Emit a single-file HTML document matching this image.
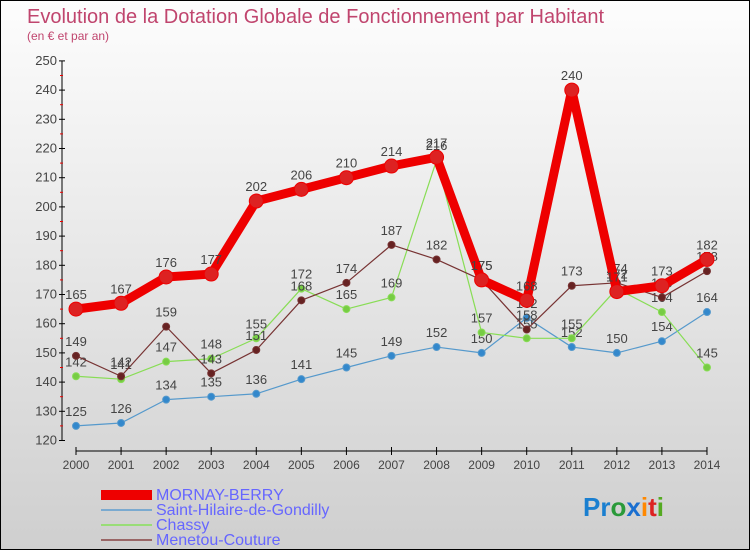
<!DOCTYPE html>
<html><head><meta charset="utf-8">
<style>
body{margin:0;}
#c{position:relative;width:748px;height:548px;border:1px solid #000;background:linear-gradient(#fdfdfd,#cfcfcf);font-family:"Liberation Sans","DejaVu Sans",sans-serif;overflow:hidden}
svg{position:absolute;left:0;top:0}
</style></head><body>
<div id="c">
<svg id="s" width="748" height="548">
<text x="26" y="22" font-size="20" fill="#c0456e">Evolution de la Dotation Globale de Fonctionnement par Habitant</text>
<text x="26" y="39" font-size="12" fill="#c0456e">(en € et par an)</text>
<g id="axes"></g><g id="series"></g>
<g font-size="16" fill="#6666ff">
<rect x="100" y="489" width="51" height="10" fill="#ee0000"/>
<text x="155" y="499">MORNAY-BERRY</text>
<rect x="100" y="508" width="51" height="2" fill="#7aaad0"/>
<text x="155" y="514">Saint-Hilaire-de-Gondilly</text>
<rect x="100" y="523" width="51" height="2" fill="#99dd77"/>
<text x="155" y="529">Chassy</text>
<rect x="100" y="538" width="51" height="2" fill="#996666"/>
<text x="155" y="544">Menetou-Couture</text>
</g>
<g font-size="26" font-weight="bold">
<text x="582" y="515"><tspan fill="#1a7fd0">Pr</tspan><tspan fill="#2a9a3a">o</tspan><tspan fill="#1a6fd0">x</tspan><tspan fill="#ff8800">i</tspan><tspan fill="#dd2222">t</tspan><tspan fill="#55aa22">i</tspan></text>
</g>
</svg>
</div>
<script>
const years=["2000","2001","2002","2003","2004","2005","2006","2007","2008","2009","2010","2011","2012","2013","2014"];
const yTicks=[120,130,140,150,160,170,180,190,200,210,220,230,240,250];
const mornay=[165,167,176,177,202,206,210,214,217,175,168,240,171,173,182];
const hilaire=[125,126,134,135,136,141,145,149,152,150,162,152,150,154,164];
const chassy=[142,141,147,148,155,172,165,169,216,157,155,155,172,164,145];
const menetou=[149,142,159,143,151,168,174,187,182,175,158,173,174,169,178];
const NS="http://www.w3.org/2000/svg";
const xs=i=>75+i*45.07;
const ys=v=>439.5-(v-120)*2.92;
function mk(t,a,p){const e=document.createElementNS(NS,t);for(const k in a)e.setAttribute(k,a[k]);p.appendChild(e);return e;}
const ax=document.getElementById('axes');
const yl=mk('line',{x1:61,y1:ys(250),x2:61,y2:ys(120),stroke:'#000'},ax);


yTicks.forEach(v=>{
 mk('line',{x1:58,x2:64,y1:ys(v),y2:ys(v),stroke:'#000'},ax);
 if(v<250) mk('line',{x1:59,x2:62,y1:ys(v+5),y2:ys(v+5),stroke:'#e00'},ax);
 const t=mk('text',{x:56,y:ys(v)+4,'font-size':13,fill:'#444','text-anchor':'end'},ax);
 t.textContent=v;
 
 
});
const xl=mk('line',{x1:75,y1:450,x2:xs(14),y2:450,stroke:'#000'},ax);


years.forEach((y,i)=>{
 mk('line',{x1:xs(i),x2:xs(i),y1:446,y2:454,stroke:'#000'},ax);
 const t=mk('text',{x:xs(i),y:468,'font-size':12,fill:'#444','text-anchor':'middle'},ax);
 t.textContent=y;
 
 
});
const sg=document.getElementById('series');
function draw(data,name,col,w,r,dot){
 const g=mk('g',{},sg);
 
 
 const p=mk('polyline',{points:data.map((v,i)=>xs(i)+','+ys(v)).join(' '),fill:'none',stroke:col,'stroke-width':w,'stroke-linejoin':'round'},g);
 
 
 data.forEach((v,i)=>{
  const c=mk('circle',{cx:xs(i),cy:ys(v),r:r,fill:dot,stroke:col,'stroke-width':1},g);
  
  
  const t=mk('text',{x:xs(i),y:ys(v)-10,'font-size':13,fill:'#444','text-anchor':'middle'},g);
  t.textContent=v;
  
  
 });
}
draw(hilaire,'saint-hilaire','#5599cc',1.2,3.5,'#3388cc');
draw(chassy,'chassy','#88dd55',1.2,3.5,'#77cc44');
draw(menetou,'menetou','#773333',1.2,3.5,'#662222');
draw(mornay,'mornay','#ee0000',9,7,'#dd2222');
</script>
</body></html>
